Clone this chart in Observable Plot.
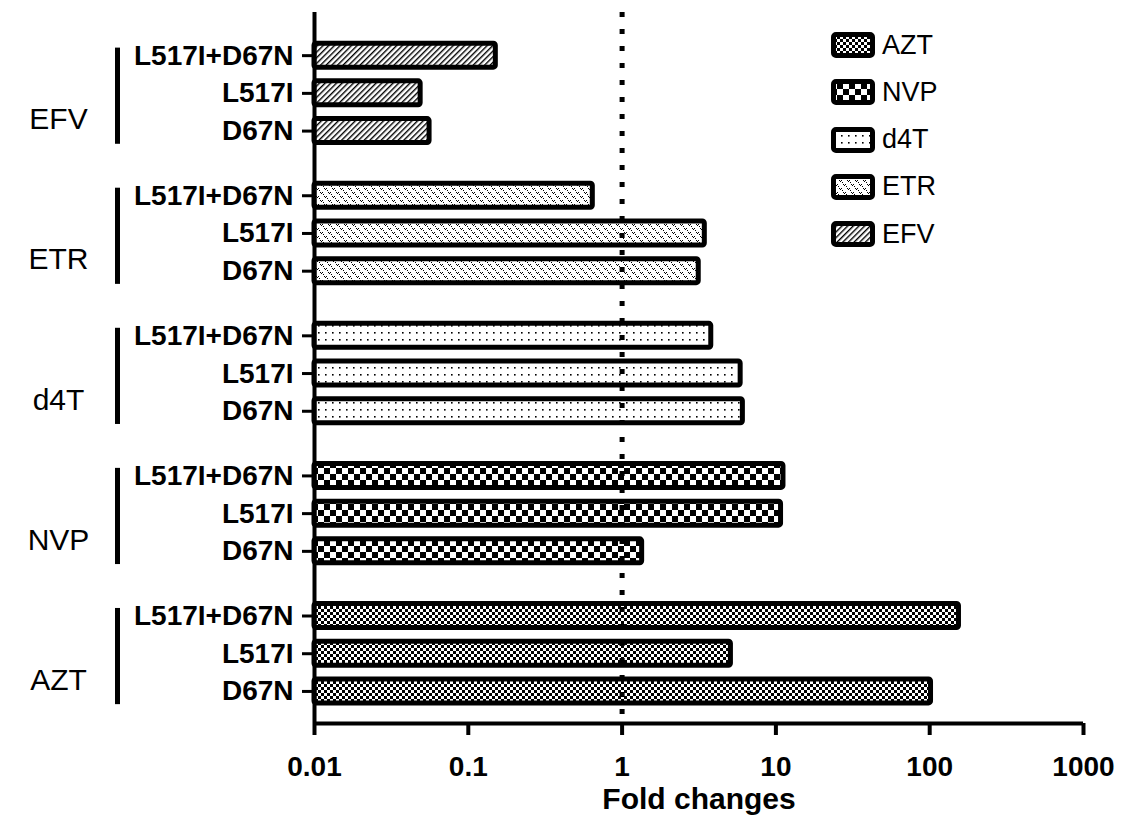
<!DOCTYPE html>
<html><head><meta charset="utf-8">
<script src="https://cdn.jsdelivr.net/npm/d3@7"></script>
<script src="https://cdn.jsdelivr.net/npm/@observablehq/plot@0.6"></script>
<style>
body{margin:0;background:#fff;font-family:"Liberation Sans",Arial,sans-serif;}
#wrap{position:relative;width:1123px;height:815px;overflow:hidden;}
#legend{position:absolute;left:831px;top:0;}
.item{position:absolute;left:0;display:flex;align-items:center;white-space:nowrap;height:30px;}
.item span{font-size:27px;margin-left:5px;color:#000;}
</style></head><body><div id="wrap"><div id="chart"></div><div id="legend"></div></div>
<script>
// ---- data ----
const drugs = ["AZT", "NVP", "d4T", "ETR", "EFV"];          // bottom -> top
const mutations = ["D67N", "L517I", "L517I+D67N"];          // bottom -> top within a group
const aztValues = [102, 5.1, 155];
const nvpValues = [1.35, 10.8, 11.2];
const d4tValues = [6.1, 5.9, 3.8];
const etrValues = [3.15, 3.45, 0.645];
const efvValues = [0.056, 0.049, 0.151];
const xTicks = [0.01, 0.1, 1, 10, 100, 1000];
const xTickLabels = ["0.01", "0.1", "1", "10", "100", "1000"];
const xLabel = "Fold changes";

// ---- build table ----
const seriesValues = [aztValues, nvpValues, d4tValues, etrValues, efvValues];
const groupPitch = 3.714; // rows per group incl. gap
const rows = [];
drugs.forEach((drug, g) => {
  mutations.forEach((mut, m) => {
    rows.push({drug, mutation: mut, value: seriesValues[g][m], pos: g * groupPitch + m});
  });
});
const groups = drugs.map((drug, g) => ({drug, top: g * groupPitch + 2, bottom: g * groupPitch, mid: g * groupPitch + 1}));
const posLabel = new Map(rows.map(r => [r.pos, r.mutation]));
const patternIds = drugs.map(d => `url(#pat-${d})`);
const xDomain = [0.01, 1000];
const yDomain = [-0.85, 18.0];
const half = 0.318;

const plot = Plot.plot({
  width: 1123,
  height: 815,
  marginLeft: 314,
  marginRight: 40,
  marginTop: 12,
  marginBottom: 92,
  style: {fontFamily: '"Liberation Sans", Arial, sans-serif', color: "#000", background: "#fff", overflow: "visible"},
  x: {type: "log", domain: xDomain},
  y: {domain: yDomain},
  color: {domain: drugs, range: patternIds},
  marks: [
    Plot.rect(rows, {
      x1: () => xDomain[0], x2: "value",
      y1: d => d.pos - half, y2: d => d.pos + half,
      fill: "drug", stroke: "#000", strokeWidth: 5, rx: 2
    }),
    Plot.ruleX([1], {stroke: "#000", strokeWidth: 5, strokeDasharray: "5,12"}),
    Plot.ruleX([xDomain[0]], {stroke: "#000", strokeWidth: 4}),
    Plot.ruleY([yDomain[0]], {stroke: "#000", strokeWidth: 4}),
    Plot.axisY({
      ticks: rows.map(r => r.pos), tickFormat: p => posLabel.get(p),
      tickSize: 12, tickPadding: 9, fontSize: 28, fontWeight: "bold",
      strokeWidth: 3, label: null
    }),
    Plot.axisX({
      ticks: xTicks, tickFormat: d => xTickLabels[xTicks.indexOf(d)],
      tickSize: 12, tickPadding: 21, fontSize: 28, fontWeight: "bold",
      strokeWidth: 4, label: null
    }),
    Plot.text([xLabel], {frameAnchor: "bottom", dy: 85, fontSize: 30, fontWeight: "bold", text: d => d}),
    Plot.ruleX(groups, {x: () => xDomain[0], y1: d => d.top + 0.2, y2: d => d.bottom - 0.35, dx: -197, stroke: "#000", strokeWidth: 5}),
    Plot.text(groups, {frameAnchor: "left", y: d => d.mid - 0.7, dx: -256, text: "drug", fontSize: 30, textAnchor: "middle"})
  ]
});

// ---- patterns ----
const defs = d3.select(plot).insert("defs", ":first-child");
function pat(id, w, h) {
  const p = defs.append("pattern").attr("id", "pat-" + id).attr("width", w).attr("height", h).attr("patternUnits", "userSpaceOnUse");
  p.append("rect").attr("width", w).attr("height", h).attr("fill", "#fff");
  return p;
}
// AZT: fine checkerboard
{ const p = pat("AZT", 6, 6);
  p.append("rect").attr("width", 3).attr("height", 3).attr("fill", "#000");
  p.append("rect").attr("x", 3).attr("y", 3).attr("width", 3).attr("height", 3).attr("fill", "#000"); }
// NVP: coarse checkerboard
{ const p = pat("NVP", 12, 12);
  p.append("rect").attr("width", 6).attr("height", 6).attr("fill", "#000");
  p.append("rect").attr("x", 6).attr("y", 6).attr("width", 6).attr("height", 6).attr("fill", "#000"); }
// d4T: sparse dots
{ const p = pat("d4T", 7, 7);
  p.append("rect").attr("x", 3).attr("y", 3).attr("width", 1.6).attr("height", 1.6).attr("fill", "#000"); }
// ETR: small v motifs
{ const p = pat("ETR", 8, 8);
  [[0,0],[2,0],[1,1],[4,4],[6,4],[5,5],[3,2],[7,6]].forEach(([x,y]) =>
    p.append("rect").attr("x", x).attr("y", y).attr("width", 1).attr("height", 1).attr("fill", "#000")); }
// EFV: diagonal hatch
{ const p = pat("EFV", 4, 4).attr("patternTransform", "rotate(45)");
  p.append("rect").attr("x", 0).attr("y", 0).attr("width", 1.4).attr("height", 4).attr("fill", "#000"); }

document.getElementById("chart").appendChild(plot);

// ---- legend ----
const legend = d3.select("#legend");
drugs.forEach((d, i) => {
  const item = legend.append("div").attr("class", "item").style("top", (45 + i * 47.3 - 15) + "px");
  const s = item.append("svg").attr("width", 46).attr("height", 30);
  s.append("rect").attr("x", 2.5).attr("y", 4.5).attr("width", 39).attr("height", 21).attr("rx", 2.5)
    .attr("fill", `url(#pat-${d})`).attr("stroke", "#000").attr("stroke-width", 5);
  item.append("span").text(d);
});
</script></body></html>
